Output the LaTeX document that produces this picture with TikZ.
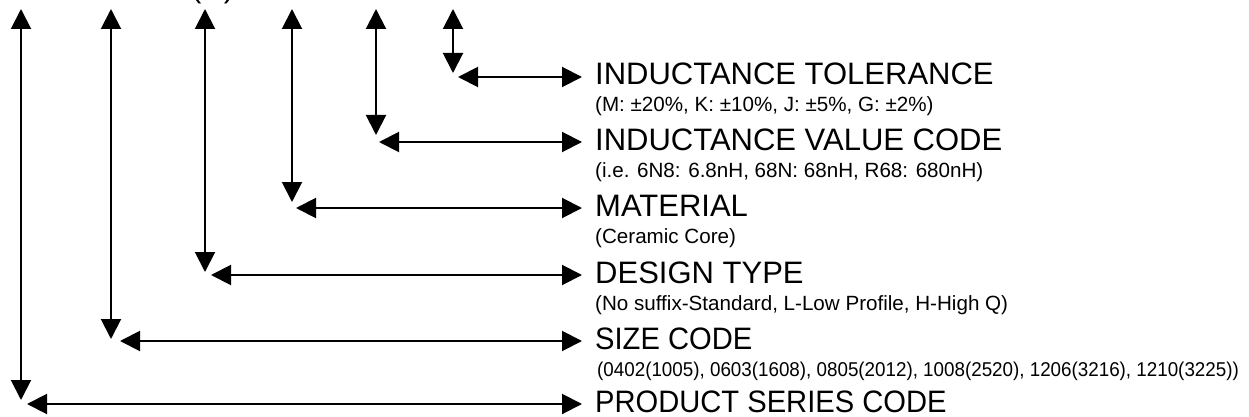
\documentclass[tikz,border=0pt]{standalone}
\usepackage{fontspec}
\setmainfont{Liberation Sans}
\newfontfamily\narrowsans[FakeStretch=0.94]{Liberation Sans}
\usetikzlibrary{arrows.meta}
\begin{document}
\begin{tikzpicture}[x=1pt,y=-1pt,
  conn/.style={line width=2pt,{Triangle[length=20pt,width=20pt]}-{Triangle[length=20pt,width=20pt]}},
  title/.style={anchor=base west,inner sep=0pt,font=\fontsize{31}{36}\selectfont},
  subtext/.style={anchor=base west,inner sep=0pt,font=\fontsize{20.6}{24}\selectfont},
  narrowtitle/.style={anchor=base west,inner sep=0pt,font=\narrowsans\fontsize{31}{36}\selectfont},
  narrowsub/.style={anchor=base west,inner sep=0pt,font=\narrowsans\fontsize{20}{24}\selectfont},
]
\useasboundingbox (0,0) rectangle (1249,417);
\fill[white] (0,0) rectangle (1249,417);

% cut-off text at the top
\node[title] (cut) at (191,-2) {(\hphantom{H})};

% row 0: inductance tolerance
\coordinate (u0) at (453,9);  \coordinate (d0) at (453,73);
\coordinate (l0) at (458,77); \coordinate (r0) at (582,77);
\node[title] (t0) at (595,85) {INDUCTANCE TOLERANCE};
\node[subtext] (s0) at (595,112) {(M: ±20\%, K: ±10\%, J: ±5\%, G: ±2\%)};
\draw[conn] (u0) -- (d0);
\draw[conn] (l0) -- (r0);

% row 1: inductance value code
\coordinate (u1) at (376,9);  \coordinate (d1) at (376,135);
\coordinate (l1) at (379,142); \coordinate (r1) at (582,142);
\node[title] (t1) at (595,150) {INDUCTANCE VALUE CODE};
\node[subtext] (s1) at (595,177) {(i.e. 6N8: 6.8nH, 68N: 68nH, R68: 680nH)};
\draw[conn] (u1) -- (d1);
\draw[conn] (l1) -- (r1);

% row 2: material
\coordinate (u2) at (292,9);  \coordinate (d2) at (292,202);
\coordinate (l2) at (296,208); \coordinate (r2) at (582,208);
\node[title] (t2) at (595,216) {MATERIAL};
\node[subtext] (s2) at (595,243) {(Ceramic Core)};
\draw[conn] (u2) -- (d2);
\draw[conn] (l2) -- (r2);

% row 3: design type
\coordinate (u3) at (205,9);  \coordinate (d3) at (205,272);
\coordinate (l3) at (211,275); \coordinate (r3) at (582,275);
\node[title] (t3) at (595,283) {DESIGN TYPE};
\node[subtext] (s3) at (595,310) {(No suffix-Standard, L-Low Profile, H-High Q)};
\draw[conn] (u3) -- (d3);
\draw[conn] (l3) -- (r3);

% row 4: size code
\coordinate (u4) at (111,9);  \coordinate (d4) at (111,339);
\coordinate (l4) at (120,341); \coordinate (r4) at (582,341);
\node[narrowtitle] (t4) at (595,349) {SIZE CODE};
\node[narrowsub] (s4) at (597,376) {(0402(1005), 0603(1608), 0805(2012), 1008(2520), 1206(3216), 1210(3225))};
\draw[conn] (u4) -- (d4);
\draw[conn] (l4) -- (r4);

% row 5: product series code
\coordinate (u5) at (21,9);  \coordinate (d5) at (21,400);
\coordinate (l5) at (27,404); \coordinate (r5) at (582,404);
\node[narrowtitle] (t5) at (595,412) {PRODUCT SERIES CODE};
\draw[conn] (u5) -- (d5);
\draw[conn] (l5) -- (r5);
\end{tikzpicture}
\end{document}
